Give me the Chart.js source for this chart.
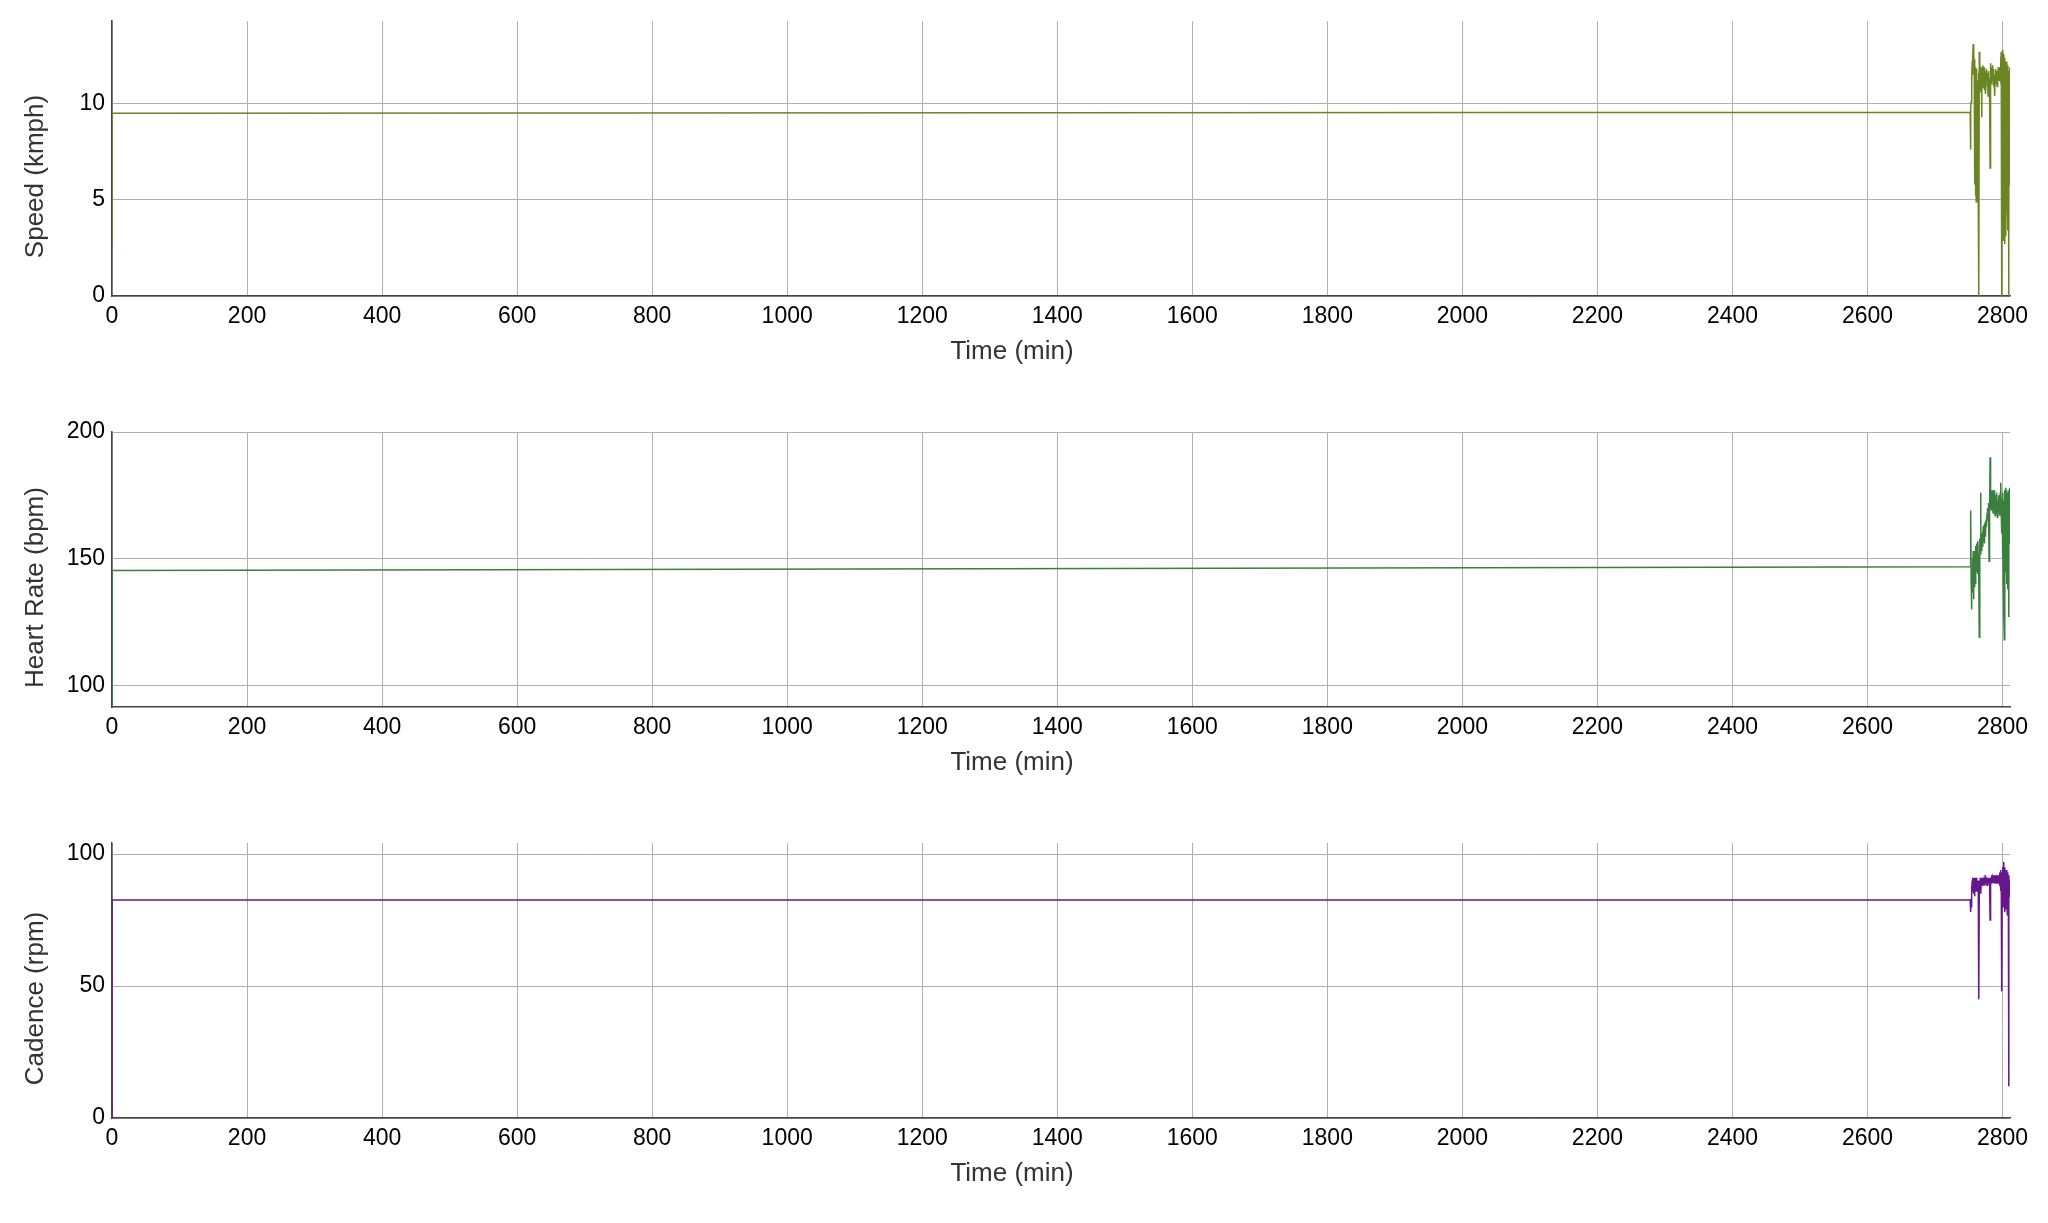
<!DOCTYPE html>
<html>
<head>
<meta charset="utf-8">
<script src="https://cdn.jsdelivr.net/npm/chart.js@4.4.1/dist/chart.umd.min.js"></script>
<style>
  html, body { margin: 0; padding: 0; background: #fff; overflow: hidden; }
  .panel { position: absolute; left: 0; width: 2048px; height: 411px; }
</style>
</head>
<body>
<div class="panel" style="top:0px"><canvas id="speedChart"></canvas></div>
<div class="panel" style="top:411px"><canvas id="hrChart"></canvas></div>
<div class="panel" style="top:822px"><canvas id="cadenceChart"></canvas></div>
<script>
// elapsed time of each sample (the first two samples sit at t=0, then a long gap)
const minutes = [
    0, 0.1, 2752,
    2752.5, 2753, 2753.5, 2754, 2754.5, 2755, 2755.5, 2756, 2756.5, 2757,
    2757.5, 2758, 2758.5, 2759, 2759.5, 2760, 2760.5, 2761, 2761.5, 2762,
    2762.5, 2763, 2763.5, 2764, 2764.5, 2765, 2765.5, 2766, 2766.5, 2767,
    2767.5, 2768, 2768.5, 2769, 2769.5, 2770, 2770.5, 2771, 2771.5, 2772,
    2772.5, 2773, 2773.5, 2774, 2774.5, 2775, 2775.5, 2776, 2776.5, 2777,
    2777.5, 2778, 2778.5, 2779, 2779.5, 2780, 2780.5, 2781, 2781.5, 2782,
    2782.5, 2783, 2783.5, 2784, 2784.5, 2785, 2785.5, 2786, 2786.5, 2787,
    2787.5, 2788, 2788.5, 2789, 2789.5, 2790, 2790.5, 2791, 2791.5, 2792,
    2792.5, 2793, 2793.5, 2794, 2794.5, 2795, 2795.5, 2796, 2796.5, 2797,
    2797.5, 2798, 2798.5, 2799, 2799.5, 2800, 2800.5, 2801, 2801.5, 2802,
    2802.5, 2803, 2803.5, 2804, 2804.5, 2805, 2805.5, 2806, 2806.5, 2807,
    2807.5, 2808, 2808.5, 2809, 2809.5, 2810, 2810.5, 2811
];

const speedKmph = [
    2.8, 9.5, 9.55,
    7.6, 9.8, 10.1, 10.6, 11.2, 12.2, 11.5, 12.4, 13.1, 12.0,
    12.6, 11.8, 12.3, 5.8, 11.9, 5.2, 11.4, 4.9, 11.8, 5.5,
    11.2, 6.3, 10.9, 4.9, 11.6, 0, 12.7, 11.5, 12.1, 11.0,
    11.8, 10.6, 11.9, 9.3, 11.7, 11.2, 12.0, 10.8, 11.6, 11.1,
    11.9, 10.7, 11.5, 11.0, 11.7, 10.5, 11.3, 11.8, 11.1, 11.6,
    10.9, 11.4, 10.4, 11.2, 11.7, 10.8, 11.3, 10.6, 6.65, 11.5,
    12.1, 11.3, 11.9, 11.0, 11.7, 11.2, 12.0, 11.4, 11.8, 10.9,
    11.5, 11.1, 10.4, 11.3, 11.8, 11.0, 11.6, 11.2, 11.7, 10.9,
    11.5, 11.3, 11.9, 11.2, 11.6, 11.4, 11.8, 11.3, 11.9, 11.5,
    12.2, 12.7, 11.6, 0, 12.5, 3.3, 12.8, 2.9, 12.6, 3.6,
    12.3, 2.7, 12.4, 3.8, 11.9, 3.1, 12.2, 4.4, 11.6, 5.2,
    12.0, 3.4, 11.7, 0, 11.5, 5.8, 11.9, 11.1
];

const heartRateBpm = [
    92, 145.4, 146.8,
    158, 169, 141, 130, 146, 137, 150, 141, 153, 134,
    148, 139, 151, 144, 153, 140, 155, 145, 156, 148,
    154, 144, 157, 150, 152, 143, 119, 150, 158, 152,
    176, 155, 158, 153, 160, 155, 161, 157, 163, 158,
    162, 156, 164, 159, 165, 161, 163, 166, 164, 168,
    165, 170, 167, 172, 169, 149, 171, 168, 190, 172,
    176, 170, 175, 169, 177, 172, 174, 168, 175, 171,
    177, 170, 173, 167, 174, 169, 175, 171, 176, 168,
    173, 166, 172, 169, 175, 170, 174, 167, 176, 171,
    180, 168, 174, 160, 172, 150, 176, 140, 173, 128,
    118, 165, 177, 145, 178, 152, 175, 140, 177, 148,
    176, 138, 174, 127, 177, 156, 178, 160
];

const cadenceRpm = [
    0, 82.6, 82.6,
    78, 83, 80, 88, 85, 90, 86, 91, 87, 90,
    85, 91, 84, 89, 86, 90, 87, 91, 88, 90,
    86, 89, 87, 90, 88, 45, 86, 90, 88, 91,
    87, 85, 90, 88, 91, 89, 90, 88, 91, 89,
    90, 88, 91, 89, 92, 89, 90, 88, 91, 89,
    90, 88, 91, 90, 89, 91, 88, 90, 75, 89,
    91, 89, 92, 90, 91, 89, 92, 90, 91, 89,
    92, 90, 91, 89, 92, 90, 91, 90, 92, 89,
    91, 90, 92, 89, 91, 90, 93, 88, 91, 94,
    86, 92, 82, 48, 93, 85, 95, 80, 97, 83,
    95, 78, 94, 84, 93, 79, 94, 82, 92, 77,
    93, 80, 91, 12, 92, 84, 90, 88
];

const timeTicks = [0, 200, 400, 600, 800, 1000, 1200, 1400, 1600, 1800, 2000, 2200, 2400, 2600, 2800];
const speedTicks = [0, 5, 10];
const heartRateTicks = [100, 150, 200];
const cadenceTicks = [0, 50, 100];

const fontFamily = "'Liberation Sans', Arial, sans-serif";
const tickFont = { family: fontFamily, size: 23 };

// axis titles sit a little off-centre in the original, so draw them by hand
const axisTitles = {
    id: 'axisTitles',
    afterDraw(chart, args, opts) {
        const { ctx, chartArea } = chart;
        ctx.save();
        ctx.fillStyle = '#333';
        ctx.font = '26px ' + fontFamily;
        ctx.textAlign = 'center';
        ctx.textBaseline = 'middle';
        ctx.fillText(opts.x, (chartArea.left + chartArea.right) / 2 - 49, chartArea.bottom + 56);
        ctx.translate(36, (chartArea.top + chartArea.bottom) / 2 + 18);
        ctx.rotate(-Math.PI / 2);
        ctx.fillText(opts.y, 0, 0);
        ctx.restore();
    }
};

function makeChart(id, values, color, yTitle, yMin, yMax, yTicks) {
    const points = minutes.map((m, i) => ({ x: m, y: values[i] }));

    return new Chart(document.getElementById(id), {
        type: 'line',
        data: {
            datasets: [{
                data: points,
                borderColor: color,
                borderWidth: 1.5,
                pointRadius: 0,
                tension: 0,
                fill: false
            }]
        },
        plugins: [axisTitles],
        options: {
            responsive: true,
            maintainAspectRatio: false,
            animation: false,
            layout: { padding: { top: 21, right: 38, bottom: 0, left: 0 } },
            plugins: {
                legend: { display: false },
                tooltip: { enabled: false },
                axisTitles: { x: 'Time (min)', y: yTitle }
            },
            scales: {
                x: {
                    type: 'linear',
                    min: 0,
                    max: 2811,
                    afterBuildTicks: axis => { axis.ticks = timeTicks.map(v => ({ value: v })); },
                    afterFit: axis => { axis.height = 115; },
                    grid: { color: '#b0b0b0', lineWidth: 1, drawTicks: false },
                    border: { color: '#444', width: 1.5 },
                    ticks: {
                        padding: 7,
                        color: '#000',
                        font: tickFont,
                        autoSkip: false,
                        maxRotation: 0,
                        callback: v => String(v)
                    }
                },
                y: {
                    type: 'linear',
                    min: yMin,
                    max: yMax,
                    afterBuildTicks: axis => { axis.ticks = yTicks.map(v => ({ value: v })); },
                    afterFit: axis => { axis.width = 112; },
                    grid: { color: '#b0b0b0', lineWidth: 1, drawTicks: false },
                    border: { color: '#444', width: 1.5 },
                    ticks: {
                        padding: 7,
                        color: '#000',
                        font: tickFont,
                        callback: v => String(v)
                    }
                }
            }
        }
    });
}

makeChart('speedChart', speedKmph, '#6b8424', 'Speed (kmph)', 0, 14.3, speedTicks);
makeChart('hrChart', heartRateBpm, '#3a7f3e', 'Heart Rate (bpm)', 91.5, 200, heartRateTicks);
makeChart('cadenceChart', cadenceRpm, '#64188c', 'Cadence (rpm)', 0, 104.2, cadenceTicks);
</script>
</body>
</html>
